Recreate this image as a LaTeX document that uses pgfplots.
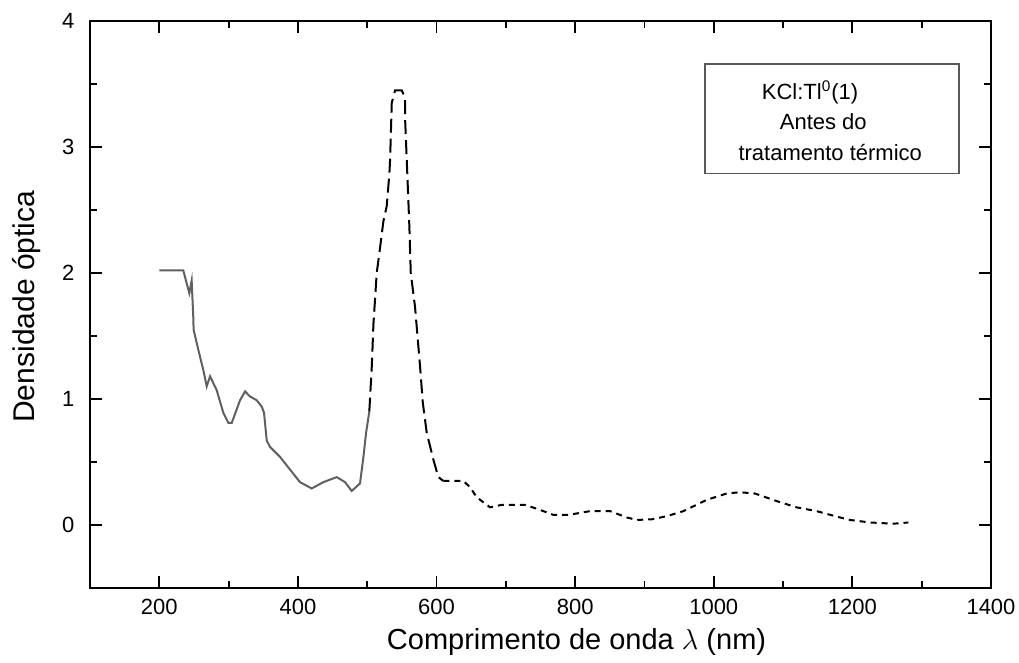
\documentclass[border=0pt]{standalone}
\usepackage{fontspec}
\setmainfont{Liberation Sans}
\usepackage{pgfplots}
\pgfplotsset{compat=1.18}
\begin{document}
\begin{tikzpicture}
\begin{axis}[
  at={(0pt,0pt)}, anchor=south west,
  scale only axis, width=450.5pt, height=283.5pt,
  xmin=100, xmax=1400, ymin=-0.5, ymax=4,
  xtick={200,400,...,1400}, ytick={0,1,2,3,4},
  minor xtick={300,500,...,1300}, minor ytick={-0.5,0.5,1.5,2.5,3.5},
  tick align=inside, major tick length=6pt, minor tick length=3.5pt,
  every tick/.style={black, line width=0.9pt},
  axis line style={line width=1.1pt},
  tick label style={font=\fontsize{11}{13}\selectfont},
  /pgf/number format/assume math mode=true,
  /pgf/number format/1000 sep={},
  x tick label style={yshift=-1.8pt},
  y tick label style={xshift=-4.3pt},
  clip=false,
]
% solid grey part
\addplot[gray!75!black, line width=1pt] coordinates {
(200,2.02) (234.6,2.02) (243.3,1.84) (246.7,1.94) (249,1.65) (249.5,1.55)
(256.3,1.39) (263.5,1.23) (268.4,1.10) (273.2,1.18) (282.8,1.07) (292.4,0.89)
(299.6,0.81) (304.5,0.81) (316.5,0.99) (323.7,1.06) (330.9,1.02) (340.5,0.99)
(347.8,0.94) (351.1,0.89) (355,0.67) (359.7,0.62) (374.2,0.54) (388.6,0.44)
(403,0.34) (419.9,0.29) (436.7,0.34) (456,0.38) (468,0.34) (477.6,0.27)
(489.6,0.33) (494.5,0.54) (498.3,0.73) (503,0.90)
};
% dashed peak
\addplot[black, line width=1pt, dash pattern=on 7pt off 3pt] coordinates {
(503,0.90) (506.6,1.26) (509,1.6) (513.7,2.0) (518.5,2.2) (523.3,2.41)
(528.1,2.53) (532,2.79) (533,2.90) (535.4,3.35) (540.2,3.45) (549.8,3.45)
(554.6,3.39) (554.6,3.23) (557,2.90) (560.8,2.37) (562.8,2.0) (569,1.73)
(576.2,1.26) (580.2,0.97) (585.9,0.73) (595.4,0.52) (602.6,0.38) (609.8,0.35)
};
% dashed tail
\addplot[black, line width=1pt, dash pattern=on 3pt off 2.5pt] coordinates {
(609.8,0.35) (638.7,0.35) (648.3,0.30) (658,0.22) (677.2,0.14) (694,0.16)
(727.7,0.16) (749.3,0.12) (768.6,0.08) (790.2,0.08) (821.5,0.11) (850.4,0.11)
(874.5,0.06) (888.9,0.04) (910.5,0.045) (932.2,0.07) (956.2,0.11) (990,0.20)
(1018.8,0.25) (1037.6,0.26) (1059.3,0.25) (1090.6,0.19) (1119.5,0.14)
(1148.3,0.11) (1182,0.06) (1196.5,0.04) (1225.3,0.02) (1259,0.01) (1280.8,0.02)
};
% legend box
\draw[gray!70!black, line width=0.8pt] (axis cs:987,3.66) rectangle (axis cs:1354,2.79);
\node[font=\fontsize{11}{13}\selectfont] at (axis cs:1139,3.43) {KCl:Tl\textsuperscript{0}(1)};
\node[font=\fontsize{11}{13}\selectfont] at (axis cs:1158,3.20) {Antes do};
\node[font=\fontsize{11}{13}\selectfont] at (axis cs:1168,2.96) {tratamento térmico};
% axis labels
\node[font=\fontsize{14.5}{16}\selectfont, yshift=-27pt] at (rel axis cs:0.54,0) {Comprimento de onda $\lambda$ (nm)};
\node[font=\fontsize{15}{17}\selectfont, rotate=90, xshift=0pt] at ([xshift=-31.5pt]rel axis cs:0,0.496) {Densidade óptica};
\end{axis}
\pgfresetboundingbox
\path (-45pt,-37.5pt) rectangle (464.5pt,294pt);
\end{tikzpicture}
\end{document}
